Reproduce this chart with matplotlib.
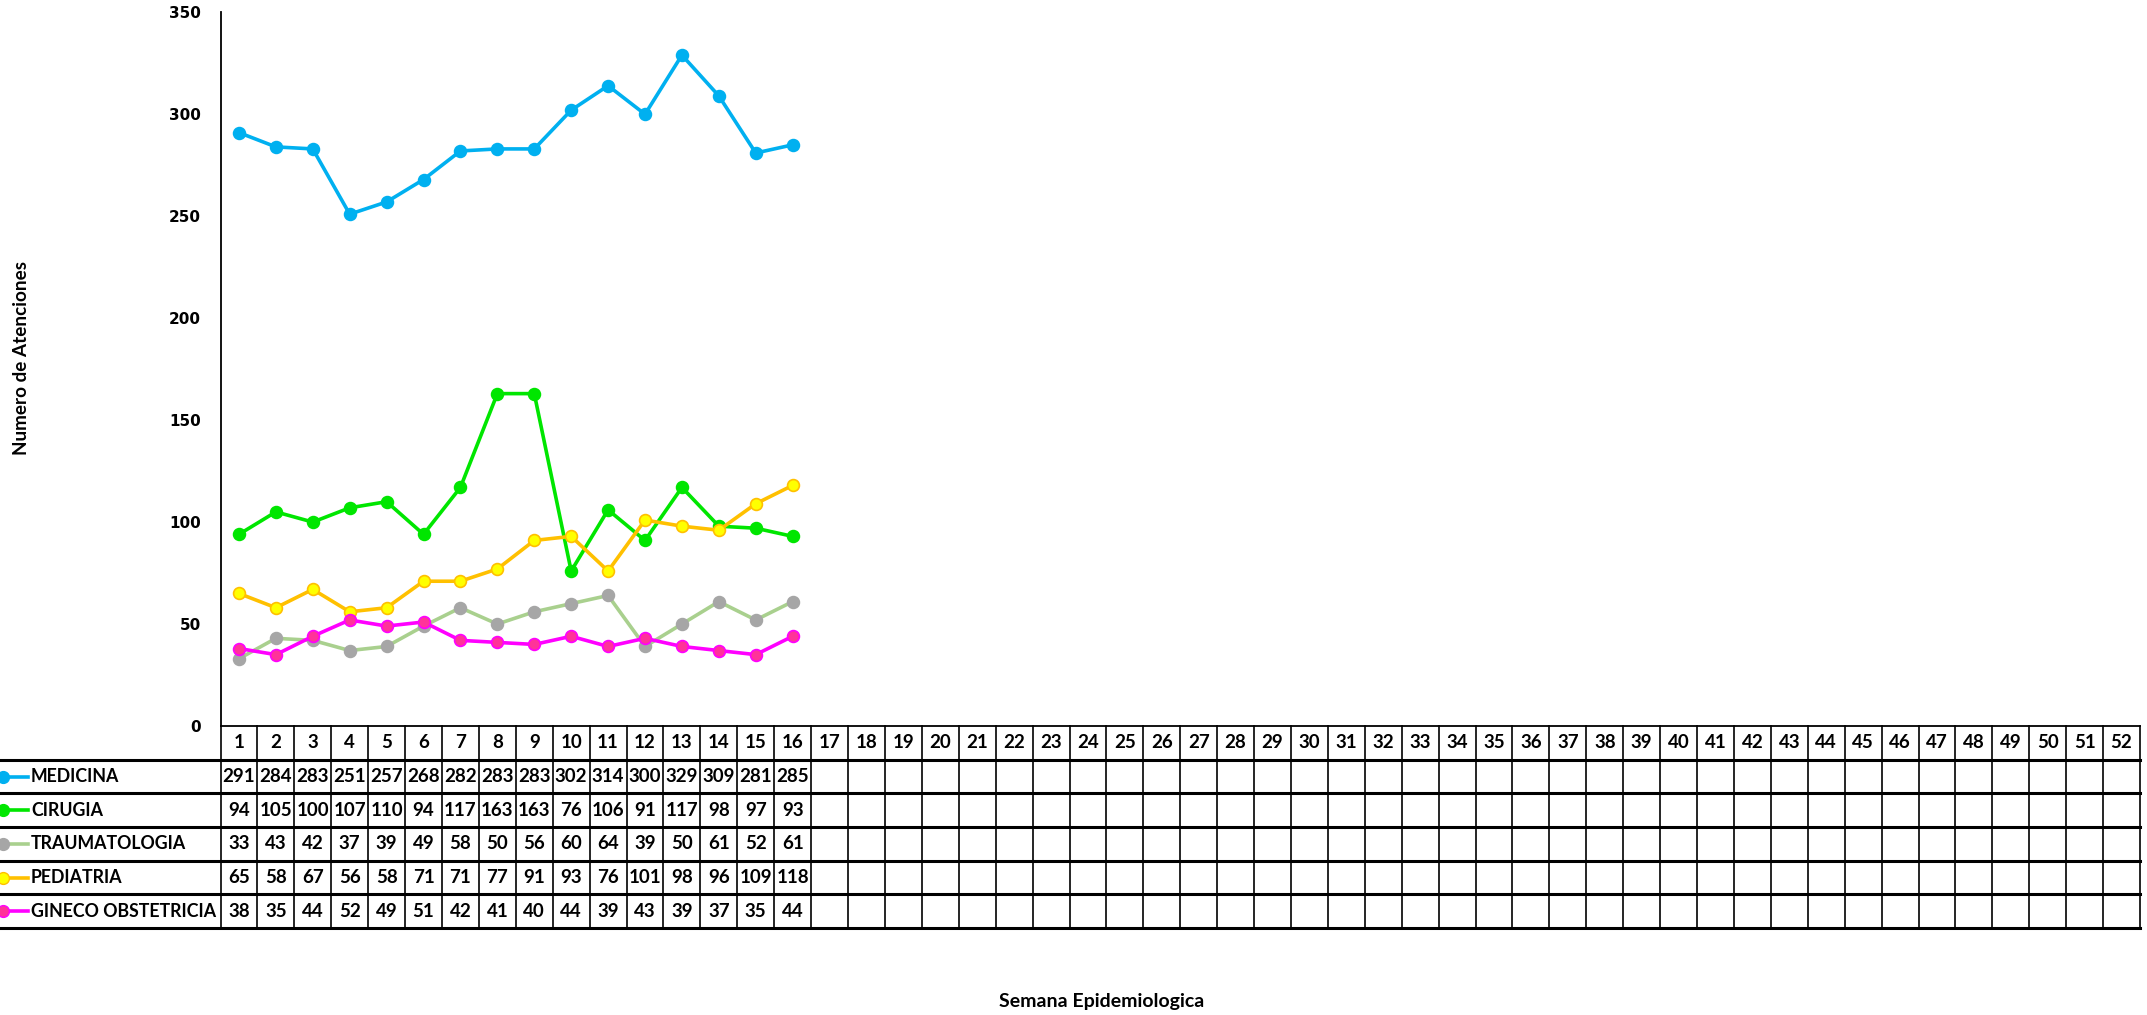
import numpy as np
import matplotlib
matplotlib.use('Agg')
import matplotlib.pyplot as plt

# weekly counts (weeks 1-16 filled, 17-52 empty)
weeks = list(range(1, 53))
servicios = ['MEDICINA', 'CIRUGIA', 'TRAUMATOLOGIA', 'PEDIATRIA', 'GINECO OBSTETRICIA']
medicina = [291, 284, 283, 251, 257, 268, 282, 283, 283, 302, 314, 300, 329, 309, 281, 285]
cirugia = [94, 105, 100, 107, 110, 94, 117, 163, 163, 76, 106, 91, 117, 98, 97, 93]
trauma = [33, 43, 42, 37, 39, 49, 58, 50, 56, 60, 64, 39, 50, 61, 52, 61]
pediatria = [65, 58, 67, 56, 58, 71, 71, 77, 91, 93, 76, 101, 98, 96, 109, 118]
gineco = [38, 35, 44, 52, 49, 51, 42, 41, 40, 44, 39, 43, 39, 37, 35, 44]
series = [medicina, cirugia, trauma, pediatria, gineco]
yticks = [0, 50, 100, 150, 200, 250, 300, 350]

# (line colour, marker face, marker edge)
estilos = [('#00B0F0', '#00B0F0', '#00B0F0'),
           ('#00E600', '#00E600', '#00E600'),
           ('#A9D08E', '#A6A6A6', '#A6A6A6'),
           ('#FFC000', '#FFFF00', '#FFC000'),
           ('#FF00FF', '#FF3399', '#FF00FF')]

W, H = 2147, 1015
fig = plt.figure(figsize=(W / 100, H / 100), dpi=100)

x0, x1 = 220.5, 2140          # plot left / right in px
y_top, y_zero, y_tab = 12.3, 726, 928
cw = (x1 - x0) / 52

ax = fig.add_axes([x0 / W, (H - y_zero) / H, (x1 - x0) / W, (y_zero - y_top) / H])
for vals, (lc, mf, me) in zip(series, estilos):
    ax.plot(range(1, len(vals) + 1), vals, color=lc, lw=2.6, marker='o', ms=8.5,
            mfc=mf, mec=me, mew=1.2, clip_on=False, zorder=3)
ax.set_xlim(0.5, 52.5)
ax.set_ylim(0, 350)
ax.set_yticks(yticks)
ax.set_xticks([])
ax.tick_params(axis='y', length=0, pad=14)
for lab in ax.get_yticklabels():
    lab.set_fontweight('bold')
    lab.set_fontsize(11)
    lab.set_family('DejaVu Sans')
for s in ['top', 'right', 'bottom']:
    ax.spines[s].set_visible(False)
ax.spines['left'].set_linewidth(1.3)

# data table below the plot
left_units = x0 / cw
tab = fig.add_axes([0, (H - y_tab) / H, x1 / W, (y_tab - y_zero) / H])
tab.set_xlim(0.5 - left_units, 52.5)
tab.set_ylim(6, 0)
tab.axis('off')

def px(p):
    return 0.5 - left_units + p / cw

fnt = dict(family='Lato', fontweight='bold')
for w in weeks:
    tab.text(w, 0.5, str(w), ha='center', va='center', fontsize=13.5, **fnt)
for r, vals in enumerate(series):
    for i, v in enumerate(vals):
        tab.text(i + 1, r + 1.5, str(v), ha='center', va='center', fontsize=13.5, **fnt)
    lc, mf, me = estilos[r]
    tab.plot([px(0), px(28)], [r + 1.5, r + 1.5], color=lc, lw=2.6, zorder=3)
    tab.plot([px(3)], [r + 1.5], marker='o', ms=8.5, mfc=mf, mec=me, color=lc, zorder=4)
    tab.text(px(31), r + 1.5, servicios[r], ha='left', va='center', fontsize=12.8, **fnt)

# grid lines
tab.plot([0.5, 52.5], [0, 0], color='black', lw=1.3, clip_on=False)
for r in range(1, 7):
    tab.plot([0.5 - left_units, 52.5], [r, r], color='black', lw=2.2, clip_on=False)
for k in range(53):
    tab.plot([k + 0.5, k + 0.5], [0, 6], color='black', lw=1.2, clip_on=False)

fig.text(1102 / W, 1 - 1001 / H, 'Semana Epidemiologica', ha='center', va='center',
         fontsize=14, **fnt)
fig.text(22 / W, 1 - 358 / H, 'Numero de Atenciones', ha='center', va='center',
         rotation=90, fontsize=13.6, **fnt)

fig.savefig('out.png', dpi=100, facecolor='white')
